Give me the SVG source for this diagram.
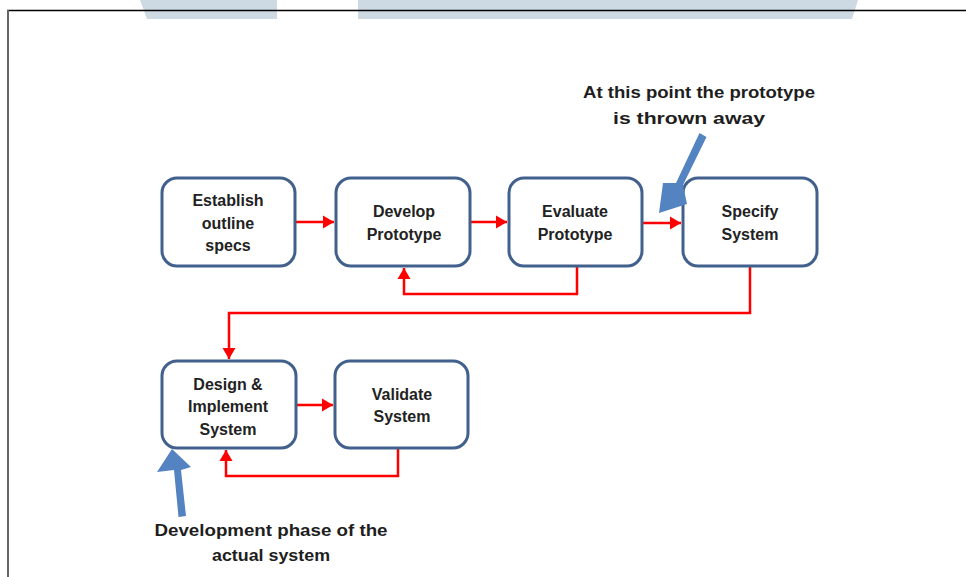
<svg xmlns="http://www.w3.org/2000/svg" width="966" height="577" viewBox="0 0 966 577">
<style>
.box{fill:#ffffff;stroke:#41618c;stroke-width:3}
.lbl{font-family:"Liberation Sans",Arial,sans-serif;font-weight:bold;font-size:16px;fill:#222222;text-anchor:middle}
.note{font-family:"Liberation Sans",Arial,sans-serif;font-weight:bold;font-size:17px;fill:#1e1e1e;text-anchor:middle}
.flow{fill:none;stroke:#ff0000;stroke-width:2.5;marker-end:url(#ah)}
.blue{fill:#5383c0}
</style>
<defs>
<marker id="ah" markerUnits="userSpaceOnUse" markerWidth="12" markerHeight="14" refX="11" refY="7" orient="auto">
<path d="M0,0.5 L11,7 L0,13.5 Z" fill="#ff0000"/>
</marker>
</defs>
<rect x="0" y="0" width="966" height="577" fill="#ffffff"/>
<polygon points="140,0 277,0 277,19 147,19" fill="#cdd9e3"/>
<polygon points="358,0 858,0 852,19 358,19" fill="#cdd9e3"/>
<line x1="7" y1="10.5" x2="966" y2="10.5" stroke="#000000" stroke-width="1.6"/>
<line x1="8" y1="10" x2="8" y2="577" stroke="#666666" stroke-width="2"/>

<g id="connectors">
<path class="flow" d="M295,222 L334,222"/>
<path class="flow" d="M470,222 L507,222"/>
<path class="flow" d="M642,223 L681,223"/>
<path class="flow" d="M577,266 L577,294 L404,294 L404,268"/>
<path class="flow" d="M750,266 L750,313 L229,313 L229,359"/>
<path class="flow" d="M296,405 L333,405"/>
<path class="flow" d="M398,448 L398,476 L226,476 L226,450"/>
</g>

<g id="n1"><rect class="box" x="162" y="178" width="133" height="88" rx="15"/>
<text class="lbl" x="228" y="206">Establish</text><text class="lbl" x="228" y="229">outline</text><text class="lbl" x="228" y="251">specs</text></g>
<g id="n2"><rect class="box" x="336" y="178" width="134" height="88" rx="15"/>
<text class="lbl" x="404" y="217">Develop</text><text class="lbl" x="404" y="240">Prototype</text></g>
<g id="n3"><rect class="box" x="509" y="178" width="133" height="88" rx="15"/>
<text class="lbl" x="575" y="217">Evaluate</text><text class="lbl" x="575" y="240">Prototype</text></g>
<g id="n4"><rect class="box" x="683" y="178" width="134" height="88" rx="15"/>
<text class="lbl" x="750" y="217">Specify</text><text class="lbl" x="750" y="240">System</text></g>
<g id="n5"><rect class="box" x="162" y="361" width="134" height="87" rx="15"/>
<text class="lbl" x="228" y="390">Design &amp;</text><text class="lbl" x="228" y="412">Implement</text><text class="lbl" x="228" y="435">System</text></g>
<g id="n6"><rect class="box" x="335" y="361" width="133" height="87" rx="15"/>
<text class="lbl" x="402" y="400">Validate</text><text class="lbl" x="402" y="422">System</text></g>

<g id="note-top">
<polygon class="blue" points="699.5,133 706.5,137 683,185 687,204 659,213 663,183 676,183"/>
<text class="note" x="699" y="98" textLength="232" lengthAdjust="spacingAndGlyphs">At this point the prototype</text>
<text class="note" x="689" y="124" textLength="152" lengthAdjust="spacingAndGlyphs">is thrown away</text>
</g>
<g id="note-bottom">
<polygon class="blue" points="178.5,517 186,516 181,470 191,467 172,449 157,472 174,470"/>
<text class="note" x="271" y="536" textLength="233" lengthAdjust="spacingAndGlyphs">Development phase of the</text>
<text class="note" x="271" y="561" textLength="118" lengthAdjust="spacingAndGlyphs">actual system</text>
</g>
</svg>
